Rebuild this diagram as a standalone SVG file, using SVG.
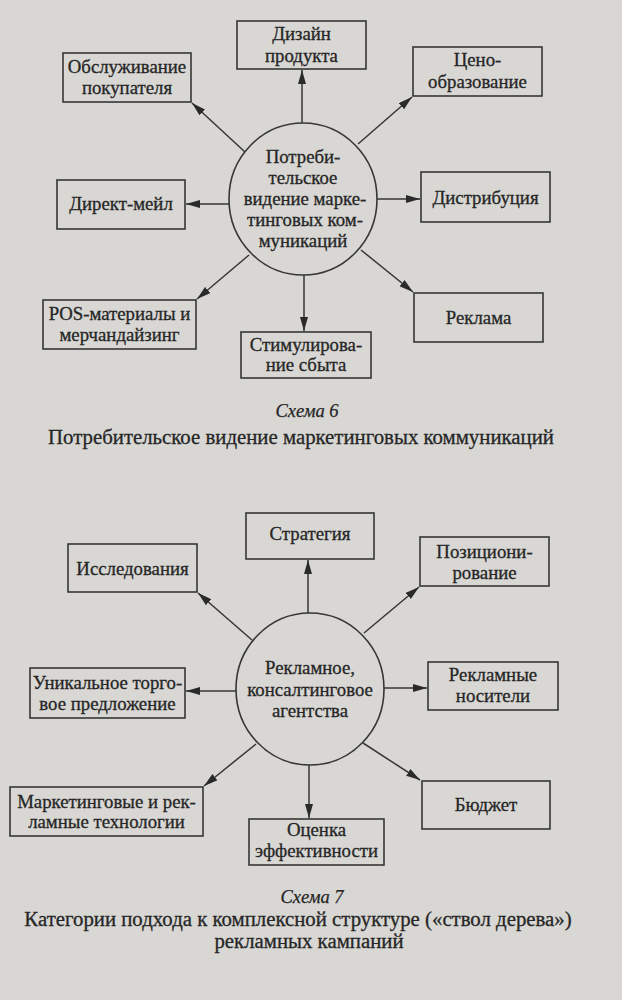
<svg xmlns="http://www.w3.org/2000/svg" width="622" height="1000" viewBox="0 0 622 1000">
<defs>
<marker id="ah" markerUnits="userSpaceOnUse" markerWidth="14" markerHeight="8" refX="14" refY="4" orient="auto">
<path d="M0,0 L14,4 L0,8 z" fill="#2a2a2a"/>
</marker>
<style>
.bg{fill:#d8d7d4}
.box{fill:none;stroke:#363636;stroke-width:1.6}
.circ{fill:none;stroke:#363636;stroke-width:1.6}
.t{font-family:"Liberation Serif","Times New Roman",serif;font-size:18.8px;fill:#262626;stroke:#262626;stroke-width:0.3;text-anchor:middle}
.cap{font-family:"Liberation Serif","Times New Roman",serif;font-size:18.5px;fill:#262626;stroke:#262626;stroke-width:0.25;text-anchor:middle;font-style:italic}
.ttl{font-family:"Liberation Serif","Times New Roman",serif;font-size:20.8px;fill:#262626;stroke:#262626;stroke-width:0.3;text-anchor:middle}
.c line{stroke:#363636;stroke-width:1.5;marker-end:url(#ah)}
</style>
</defs>
<rect class="bg" x="0" y="0" width="622" height="1000"/>

<!-- Schema 6 -->
<g id="s6-center">
<ellipse class="circ" cx="303" cy="199" rx="74" ry="76"/>
<text class="t" x="303" y="163">Потреби-</text>
<text class="t" x="303" y="184">тельское</text>
<text class="t" x="305" y="205">видение марке-</text>
<text class="t" x="305" y="226">тинговых ком-</text>
<text class="t" x="303" y="247">муникаций</text>
</g>
<g id="s6-design">
<rect class="box" x="237" y="21" width="129" height="48"/>
<text class="t" x="301.5" y="40">Дизайн</text>
<text class="t" x="301.5" y="62">продукта</text>
</g>
<g id="s6-service">
<rect class="box" x="63" y="53" width="128" height="49"/>
<text class="t" x="127" y="73">Обслуживание</text>
<text class="t" x="127" y="94">покупателя</text>
</g>
<g id="s6-price">
<rect class="box" x="413" y="47" width="129" height="49"/>
<text class="t" x="477.5" y="66">Цено-</text>
<text class="t" x="477.5" y="88">образование</text>
</g>
<g id="s6-direct">
<rect class="box" x="57" y="180" width="128" height="49"/>
<text class="t" x="121" y="210">Директ-мейл</text>
</g>
<g id="s6-distrib">
<rect class="box" x="421" y="172" width="129" height="50"/>
<text class="t" x="485.5" y="204">Дистрибуция</text>
</g>
<g id="s6-pos">
<rect class="box" x="43" y="300" width="153" height="49"/>
<text class="t" x="119.5" y="320">POS-материалы и</text>
<text class="t" x="119.5" y="341">мерчандайзинг</text>
</g>
<g id="s6-stim">
<rect class="box" x="241" y="332" width="130" height="46"/>
<text class="t" x="306" y="351">Стимулирова-</text>
<text class="t" x="306" y="371">ние сбыта</text>
</g>
<g id="s6-advert">
<rect class="box" x="414" y="293" width="129" height="49"/>
<text class="t" x="478.5" y="324">Реклама</text>
</g>
<g id="s6-connectors" class="c">
<line x1="302" y1="123" x2="302" y2="70"/>
<line x1="245" y1="152" x2="192" y2="103"/>
<line x1="358" y1="144" x2="412" y2="97"/>
<line x1="230" y1="204" x2="186" y2="204"/>
<line x1="377" y1="199" x2="420" y2="199"/>
<line x1="249" y1="255" x2="197" y2="299"/>
<line x1="304" y1="275" x2="304" y2="331"/>
<line x1="361" y1="250" x2="413" y2="292"/>
</g>
<g id="s6-caption">
<text class="cap" x="307" y="417">Схема 6</text>
<text class="ttl" x="301" y="444">Потребительское видение маркетинговых коммуникаций</text>
</g>

<!-- Schema 7 -->
<g id="s7-center">
<ellipse class="circ" cx="310" cy="689" rx="74" ry="76"/>
<text class="t" x="310" y="674">Рекламное,</text>
<text class="t" x="310" y="696">консалтинговое</text>
<text class="t" x="310" y="717">агентства</text>
</g>
<g id="s7-strategy">
<rect class="box" x="246" y="513" width="128" height="46"/>
<text class="t" x="310" y="540">Стратегия</text>
</g>
<g id="s7-research">
<rect class="box" x="68" y="544" width="129" height="48"/>
<text class="t" x="132.5" y="575">Исследования</text>
</g>
<g id="s7-position">
<rect class="box" x="420" y="537" width="129" height="49"/>
<text class="t" x="484.5" y="558">Позициони-</text>
<text class="t" x="484.5" y="579">рование</text>
</g>
<g id="s7-usp">
<rect class="box" x="30" y="668" width="155" height="50"/>
<text class="t" x="107.5" y="689">Уникальное торго-</text>
<text class="t" x="107.5" y="710">вое предложение</text>
</g>
<g id="s7-media">
<rect class="box" x="428" y="662" width="130" height="48"/>
<text class="t" x="493" y="681">Рекламные</text>
<text class="t" x="493" y="702">носители</text>
</g>
<g id="s7-mtech">
<rect class="box" x="10" y="787" width="193" height="49"/>
<text class="t" x="106.5" y="808">Маркетинговые и рек-</text>
<text class="t" x="106.5" y="828">ламные технологии</text>
</g>
<g id="s7-eval">
<rect class="box" x="249" y="819" width="135" height="46"/>
<text class="t" x="316.5" y="836">Оценка</text>
<text class="t" x="316.5" y="857">эффективности</text>
</g>
<g id="s7-budget">
<rect class="box" x="422" y="781" width="128" height="48"/>
<text class="t" x="486" y="811">Бюджет</text>
</g>
<g id="s7-connectors" class="c">
<line x1="308" y1="613" x2="308" y2="560"/>
<line x1="252" y1="640" x2="198" y2="593"/>
<line x1="364" y1="633" x2="419" y2="587"/>
<line x1="236" y1="691" x2="186" y2="691"/>
<line x1="384" y1="688" x2="427" y2="688"/>
<line x1="256" y1="744" x2="204" y2="786"/>
<line x1="309" y1="765" x2="309" y2="818"/>
<line x1="363" y1="743" x2="420" y2="780"/>
</g>
<g id="s7-caption">
<text class="cap" x="312" y="903">Схема 7</text>
<text class="ttl" x="298" y="926">Категории подхода к комплексной структуре («ствол дерева»)</text>
<text class="ttl" x="309" y="948">рекламных кампаний</text>
</g>
</svg>
